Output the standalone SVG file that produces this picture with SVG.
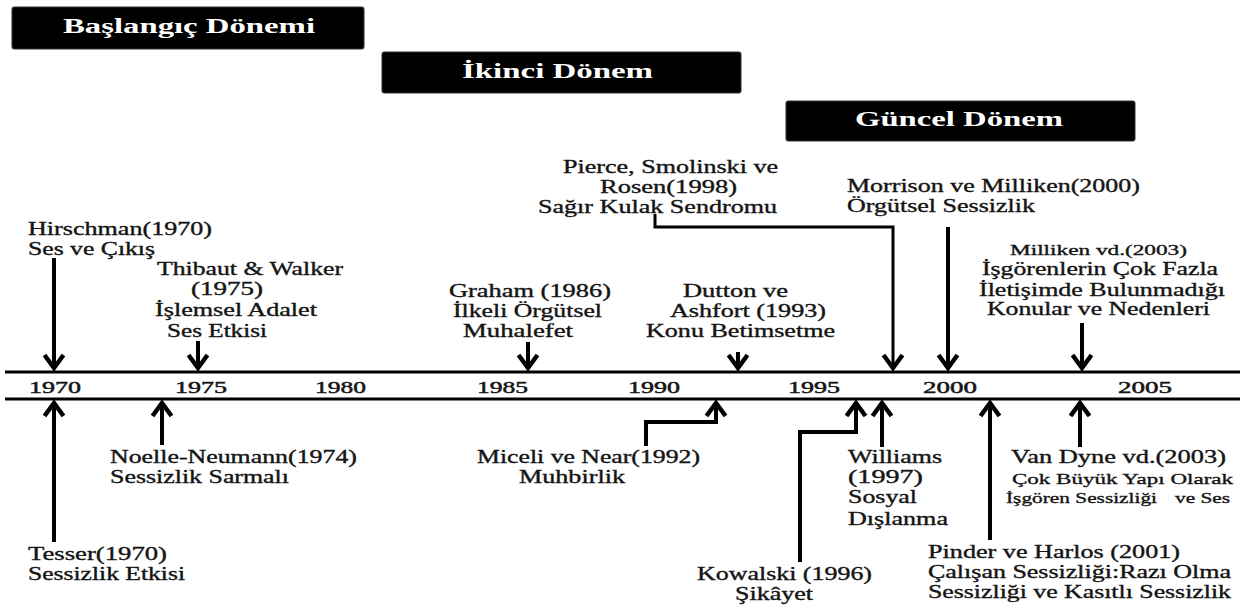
<svg xmlns="http://www.w3.org/2000/svg" width="1248" height="605" viewBox="0 0 1248 605">
<style>
.t{font-family:"Liberation Serif","Times New Roman",serif;font-size:18px;fill:#141414;stroke:#141414;stroke-width:0.35px}
.s{font-size:15.5px}
.y{font-family:"Liberation Serif","Times New Roman",serif;font-size:16px;fill:#141414;stroke:#141414;stroke-width:0.45px}
.h{font-family:"Liberation Serif","Times New Roman",serif;font-size:20px;font-weight:bold;fill:#fff}
.box{fill:#000;stroke:#333;stroke-width:1}
.axis{stroke:#000;stroke-width:3;fill:none}
.c{stroke:#000;stroke-width:4;fill:none;marker-end:url(#ah)}
.c3{stroke-width:3}
</style>
<defs>
<marker id="ah" viewBox="-20 -14 26 28" refX="0" refY="0" markerWidth="26" markerHeight="28" markerUnits="userSpaceOnUse" orient="auto">
<path d="M-13,-9.5 L0,0 L-13,9.5" fill="none" stroke="#000" stroke-width="4.5"/>
</marker>
</defs>

<g id="period-baslangic">
<rect class="box" x="12" y="7" width="352" height="42" rx="2"/>
<text class="h" x="63" y="33" textLength="252" lengthAdjust="spacingAndGlyphs">Başlangıç Dönemi</text>
</g>
<g id="period-ikinci">
<rect class="box" x="382" y="52" width="359" height="41" rx="2"/>
<text class="h" x="462" y="78" textLength="191" lengthAdjust="spacingAndGlyphs">İkinci Dönem</text>
</g>
<g id="period-guncel">
<rect class="box" x="786" y="101" width="349" height="40" rx="2"/>
<text class="h" x="855" y="126" textLength="208" lengthAdjust="spacingAndGlyphs">Güncel Dönem</text>
</g>

<g id="timeline">
<line class="axis" x1="5" y1="372" x2="1240" y2="372"/>
<line class="axis" x1="5" y1="399" x2="1240" y2="399"/>
<text class="y" x="29" y="393" textLength="52" lengthAdjust="spacingAndGlyphs">1970</text>
<text class="y" x="175" y="393" textLength="52" lengthAdjust="spacingAndGlyphs">1975</text>
<text class="y" x="315" y="393" textLength="51" lengthAdjust="spacingAndGlyphs">1980</text>
<text class="y" x="477" y="393" textLength="51" lengthAdjust="spacingAndGlyphs">1985</text>
<text class="y" x="628" y="393" textLength="52" lengthAdjust="spacingAndGlyphs">1990</text>
<text class="y" x="788" y="393" textLength="52" lengthAdjust="spacingAndGlyphs">1995</text>
<text class="y" x="923" y="393" textLength="54" lengthAdjust="spacingAndGlyphs">2000</text>
<text class="y" x="1118" y="393" textLength="54" lengthAdjust="spacingAndGlyphs">2005</text>
</g>

<g id="connectors">
<path class="c" d="M54,258 V368"/>
<path class="c" d="M198,341 V368"/>
<path class="c" d="M528,342 V368"/>
<path class="c" d="M738,352 V368"/>
<path class="c c3" d="M655,214 V227 H893 V368"/>
<path class="c" d="M948,227 V368"/>
<path class="c" d="M1082,323 V368"/>
<path class="c" d="M54,542 V403"/>
<path class="c" d="M162,445 V403"/>
<path class="c" d="M646,446 V422 H716 V403"/>
<path class="c" d="M800,562 V432 H856 V403"/>
<path class="c" d="M882,447 V403"/>
<path class="c" d="M990,540 V403"/>
<path class="c" d="M1080,447 V403"/>
</g>

<g id="hirschman">
<text class="t" x="28" y="235" textLength="184" lengthAdjust="spacingAndGlyphs">Hirschman(1970)</text>
<text class="t" x="28" y="255" textLength="127" lengthAdjust="spacingAndGlyphs">Ses ve Çıkış</text>
</g>
<g id="thibaut">
<text class="t" x="157" y="275" textLength="186" lengthAdjust="spacingAndGlyphs">Thibaut &amp; Walker</text>
<text class="t" x="191" y="295" textLength="72" lengthAdjust="spacingAndGlyphs">(1975)</text>
<text class="t" x="155" y="316" textLength="162" lengthAdjust="spacingAndGlyphs">İşlemsel Adalet</text>
<text class="t" x="167" y="337" textLength="100" lengthAdjust="spacingAndGlyphs">Ses Etkisi</text>
</g>
<g id="pierce">
<text class="t" x="563" y="173" textLength="215" lengthAdjust="spacingAndGlyphs">Pierce, Smolinski ve</text>
<text class="t" x="600" y="193" textLength="137" lengthAdjust="spacingAndGlyphs">Rosen(1998)</text>
<text class="t" x="538" y="213" textLength="239" lengthAdjust="spacingAndGlyphs">Sağır Kulak Sendromu</text>
</g>
<g id="morrison">
<text class="t" x="847" y="192" textLength="293" lengthAdjust="spacingAndGlyphs">Morrison ve Milliken(2000)</text>
<text class="t" x="847" y="212" textLength="188" lengthAdjust="spacingAndGlyphs">Örgütsel Sessizlik</text>
</g>
<g id="graham">
<text class="t" x="449" y="297" textLength="162" lengthAdjust="spacingAndGlyphs">Graham (1986)</text>
<text class="t" x="453" y="317" textLength="149" lengthAdjust="spacingAndGlyphs">İlkeli Örgütsel</text>
<text class="t" x="463" y="337" textLength="110" lengthAdjust="spacingAndGlyphs">Muhalefet</text>
</g>
<g id="dutton">
<text class="t" x="683" y="297" textLength="105" lengthAdjust="spacingAndGlyphs">Dutton ve</text>
<text class="t" x="670" y="317" textLength="156" lengthAdjust="spacingAndGlyphs">Ashfort (1993)</text>
<text class="t" x="646" y="337" textLength="189" lengthAdjust="spacingAndGlyphs">Konu Betimsetme</text>
</g>
<g id="milliken">
<text class="t s" x="1010" y="255" textLength="177" lengthAdjust="spacingAndGlyphs">Milliken  vd.(2003)</text>
<text class="t" x="982" y="275" textLength="236" lengthAdjust="spacingAndGlyphs">İşgörenlerin Çok Fazla</text>
<text class="t" x="979" y="296" textLength="246" lengthAdjust="spacingAndGlyphs">İletişimde Bulunmadığı</text>
<text class="t" x="987" y="315" textLength="223" lengthAdjust="spacingAndGlyphs">Konular ve Nedenleri</text>
</g>
<g id="tesser">
<text class="t" x="28" y="560" textLength="139" lengthAdjust="spacingAndGlyphs">Tesser(1970)</text>
<text class="t" x="28" y="580" textLength="157" lengthAdjust="spacingAndGlyphs">Sessizlik Etkisi</text>
</g>
<g id="noelle">
<text class="t" x="110" y="463" textLength="247" lengthAdjust="spacingAndGlyphs">Noelle-Neumann(1974)</text>
<text class="t" x="110" y="483" textLength="179" lengthAdjust="spacingAndGlyphs">Sessizlik Sarmalı</text>
</g>
<g id="miceli">
<text class="t" x="477" y="463" textLength="223" lengthAdjust="spacingAndGlyphs">Miceli ve Near(1992)</text>
<text class="t" x="519" y="483" textLength="106" lengthAdjust="spacingAndGlyphs">Muhbirlik</text>
</g>
<g id="kowalski">
<text class="t" x="697" y="580" textLength="175" lengthAdjust="spacingAndGlyphs">Kowalski (1996)</text>
<text class="t" x="735" y="600" textLength="78" lengthAdjust="spacingAndGlyphs">Şikâyet</text>
</g>
<g id="williams">
<text class="t" x="848" y="463" textLength="94" lengthAdjust="spacingAndGlyphs">Williams</text>
<text class="t" x="848" y="483" textLength="75" lengthAdjust="spacingAndGlyphs">(1997)</text>
<text class="t" x="848" y="503" textLength="69" lengthAdjust="spacingAndGlyphs">Sosyal</text>
<text class="t" x="848" y="525" textLength="100" lengthAdjust="spacingAndGlyphs">Dışlanma</text>
</g>
<g id="vandyne">
<text class="t" x="1011" y="463" textLength="215" lengthAdjust="spacingAndGlyphs">Van Dyne vd.(2003)</text>
<text class="t s" x="1012" y="484" textLength="221" lengthAdjust="spacingAndGlyphs">Çok Büyük Yapı Olarak</text>
<text class="t s" x="1006" y="503" textLength="151" lengthAdjust="spacingAndGlyphs">İşgören Sessizliği</text>
<text class="t s" x="1175" y="503" textLength="55" lengthAdjust="spacingAndGlyphs">ve Ses</text>
</g>
<g id="pinder">
<text class="t" x="928" y="558" textLength="252" lengthAdjust="spacingAndGlyphs">Pinder ve Harlos (2001)</text>
<text class="t" x="928" y="578" textLength="303" lengthAdjust="spacingAndGlyphs">Çalışan Sessizliği:Razı Olma</text>
<text class="t" x="928" y="598" textLength="303" lengthAdjust="spacingAndGlyphs">Sessizliği ve Kasıtlı Sessizlik</text>
</g>
</svg>
